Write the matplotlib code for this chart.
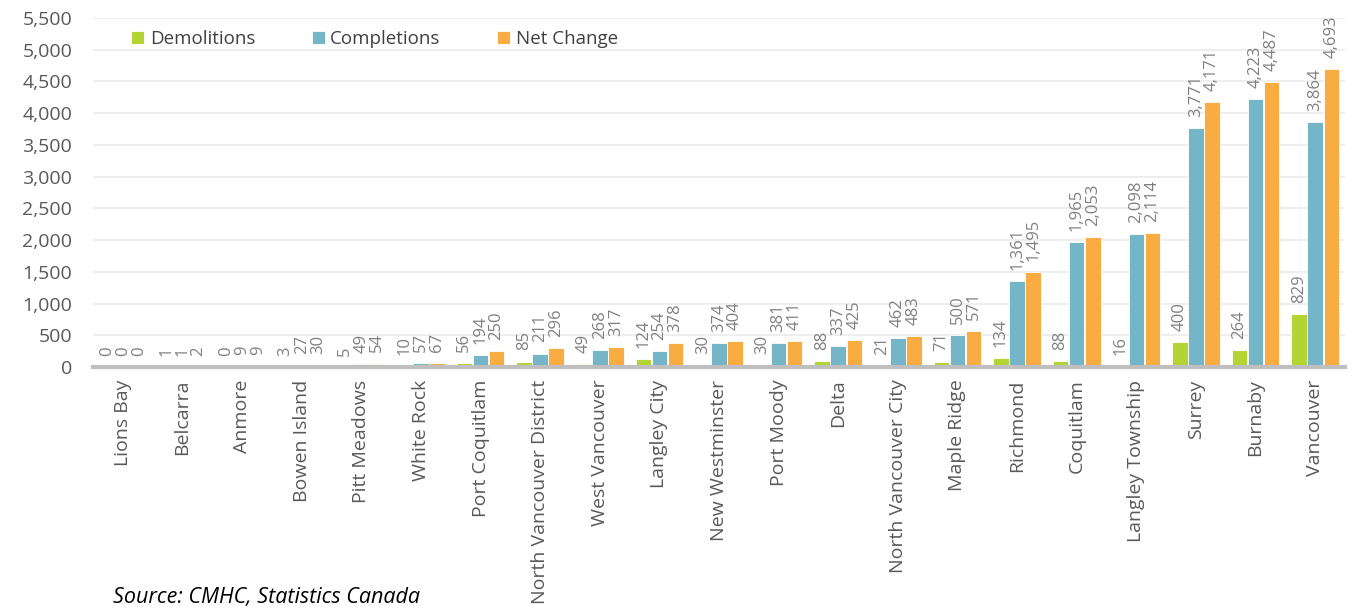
import numpy as np
import matplotlib.pyplot as plt
from matplotlib.ticker import FuncFormatter

plt.rcParams['font.family'] = ['Open Sans', 'DejaVu Sans']

# 数据
cities = ['Lions Bay', 'Belcarra', 'Anmore', 'Bowen Island', 'Pitt Meadows', 'White Rock',
          'Port Coquitlam', 'North Vancouver District', 'West Vancouver', 'Langley City',
          'New Westminster', 'Port Moody', 'Delta', 'North Vancouver City', 'Maple Ridge',
          'Richmond', 'Coquitlam', 'Langley Township', 'Surrey', 'Burnaby', 'Vancouver']
demolitions = [0, 1, 0, 3, 5, 10, 56, 85, 49, 124, 30, 30, 88, 21, 71, 134, 88, 16, 400, 264, 829]
completions = [0, 1, 9, 27, 49, 57, 194, 211, 268, 254, 374, 381, 337, 462, 500, 1361, 1965,
               2098, 3771, 4223, 3864]
net_change = [0, 2, 9, 30, 54, 67, 250, 296, 317, 378, 404, 411, 425, 483, 571, 1495, 2053,
              2114, 4171, 4487, 4693]

series = [('Demolitions', demolitions, '#B4D433'),
          ('Completions', completions, '#74B6C7'),
          ('Net Change', net_change, '#F9AC41')]

fig = plt.figure(figsize=(13.55, 6.09), dpi=100)
ax = fig.add_axes([93 / 1355, 1 - 367 / 609, 1252 / 1355, (367 - 18) / 609])

x = np.arange(len(cities))
w = 0.26
for i, (name, vals, col) in enumerate(series):
    pos = x + (i - 1) * 0.27
    ax.bar(pos, vals, width=w, color=col, edgecolor='white', linewidth=0.6, label=name, zorder=2)
    # 数据标签
    for px, v in zip(pos, vals):
        ax.annotate(f'{v:,}', (px, v), xytext=(0, 8), textcoords='offset points',
                    rotation=90, ha='center', va='bottom', fontsize=12, color='#808080')

ax.set_xlim(-0.5, len(cities) - 0.5)
ax.set_ylim(0, 5500)
ax.set_yticks(np.arange(0, 5501, 500))
ax.yaxis.set_major_formatter(FuncFormatter(lambda v, p: f'{int(v):,}'))
ax.grid(axis='y', color='#EBEBEB', linewidth=1.2, zorder=0)
ax.set_axisbelow(True)
for s in ['top', 'right', 'left']:
    ax.spines[s].set_visible(False)
ax.spines['bottom'].set_color('#BFBFBF')
ax.spines['bottom'].set_linewidth(3)
ax.spines['bottom'].set_zorder(3)
ax.tick_params(axis='y', length=0, labelsize=14, labelcolor='#595959', pad=15)
ax.tick_params(axis='x', length=0, labelsize=14, labelcolor='#595959', pad=9)
ax.set_xticks(x)
ax.set_xticklabels(cities, rotation=90)

ax.legend(loc='upper left', bbox_to_anchor=(0.017, 1.015), ncol=3, frameon=False,
          fontsize=13.5, labelcolor='#404040', handlelength=0.7, handleheight=0.7,
          handletextpad=0.3, columnspacing=3.0)

fig.text(113 / 1355, 1 - 597 / 609, 'Source: CMHC, Statistics Canada', fontsize=15.5,
         style='italic', va='center', ha='left', color='black')

plt.savefig('out.png', dpi=100)
